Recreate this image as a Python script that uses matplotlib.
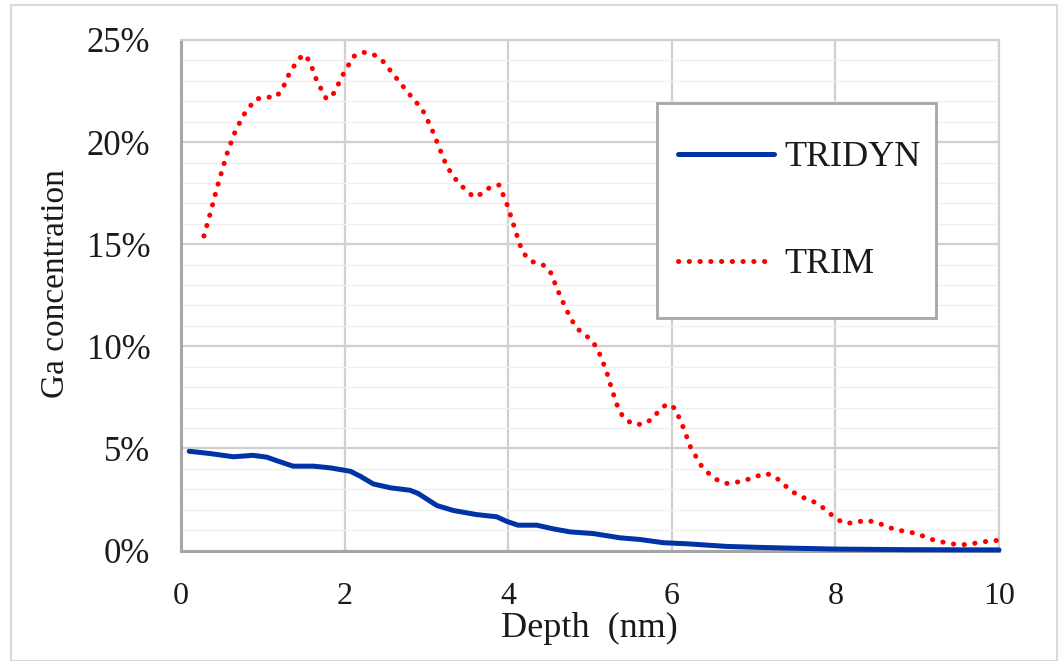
import matplotlib
matplotlib.use("Agg")
import matplotlib.pyplot as plt
from matplotlib.patches import Rectangle
from matplotlib.ticker import FuncFormatter, MultipleLocator

# ---- data ----
tridyn_x = [0.10, 0.35, 0.64, 0.88, 1.05, 1.17, 1.37, 1.62, 1.82, 2.07, 2.19, 2.35,
            2.56, 2.80, 2.90, 3.13, 3.33, 3.61, 3.86, 3.98, 4.12, 4.35, 4.55, 4.76,
            5.04, 5.37, 5.61, 5.90, 6.18, 6.67, 7.00, 7.40, 8.00, 8.90, 10.0]
tridyn_y = [4.86, 4.75, 4.59, 4.66, 4.57, 4.40, 4.13, 4.13, 4.05, 3.88, 3.64, 3.26,
            3.07, 2.95, 2.79, 2.20, 1.96, 1.76, 1.65, 1.43, 1.24, 1.24, 1.06, 0.91,
            0.83, 0.62, 0.54, 0.38, 0.33, 0.20, 0.16, 0.12, 0.07, 0.04, 0.03]

trim_x = [0.28, 0.35, 0.45, 0.56, 0.65, 0.76, 0.91, 1.04, 1.16, 1.24, 1.34, 1.49,
          1.57, 1.66, 1.78, 1.87, 1.98, 2.11, 2.23, 2.35, 2.46, 2.62, 2.78, 2.95,
          3.06, 3.15, 3.25, 3.39, 3.58, 3.69, 3.78, 3.89, 3.99, 4.07, 4.14, 4.20,
          4.29, 4.42, 4.51, 4.61, 4.71, 4.83, 4.93, 5.03, 5.10, 5.20, 5.27, 5.35,
          5.42, 5.53, 5.65, 5.76, 5.84, 5.94, 6.04, 6.14, 6.23, 6.36, 6.45, 6.55,
          6.66, 6.79, 6.92, 7.04, 7.16, 7.27, 7.37, 7.47, 7.58, 7.70, 7.81, 7.91,
          8.01, 8.12, 8.25, 8.37, 8.50, 8.62, 8.74, 8.87, 8.99, 9.11, 9.23, 9.36,
          9.48, 9.61, 9.74, 9.87, 10.0]
trim_y = [15.4, 16.4, 17.9, 19.4, 20.4, 21.3, 22.1, 22.2, 22.2, 22.6, 23.5, 24.3,
          24.0, 23.0, 22.1, 22.4, 23.3, 24.2, 24.4, 24.3, 24.0, 23.2, 22.4, 21.6,
          20.7, 19.8, 18.8, 18.0, 17.3, 17.5, 17.8, 17.9, 16.9, 15.9, 15.0, 14.5,
          14.15, 14.0, 13.7, 12.7, 11.8, 10.9, 10.6, 10.25, 9.8, 8.8, 7.85, 6.9,
          6.46, 6.18, 6.18, 6.44, 6.83, 7.18, 6.96, 6.03, 5.05, 4.16, 3.78, 3.47,
          3.28, 3.34, 3.47, 3.64, 3.77, 3.59, 3.23, 2.89, 2.63, 2.46, 2.22, 1.89,
          1.55, 1.32, 1.38, 1.48, 1.38, 1.19, 1.01, 0.93, 0.83, 0.65, 0.47, 0.38,
          0.29, 0.29, 0.38, 0.46, 0.50]

series_labels = ["TRIDYN", "TRIM"]
x_label = "Depth  (nm)"
y_label = "Ga concentration"

# ---- figure ----
plt.rcParams['font.family'] = ['Liberation Serif', 'DejaVu Serif']
W, H = 1060, 661
fig = plt.figure(figsize=(W / 100, H / 100), dpi=100)
fig.patch.set_facecolor("white")
fig.add_artist(Rectangle((11 / W, 0.0), (1057 - 11) / W, (H - 5) / H,
                         transform=fig.transFigure, fill=False,
                         edgecolor="#d9d9d9", linewidth=1.5))

x0, x1, ytop, ybot = 181, 999, 40, 550.5
ax = fig.add_axes([x0 / W, 1 - ybot / H, (x1 - x0) / W, (ybot - ytop) / H])
aw, ah = x1 - x0, ybot - ytop


def ax_xy(px, py):
    return (px - x0) / aw, (ybot - py) / ah


ax.set_xlim(0, 10)
ax.set_ylim(0, 25)
ax.xaxis.set_major_locator(MultipleLocator(2))
ax.yaxis.set_major_locator(MultipleLocator(5))
ax.yaxis.set_minor_locator(MultipleLocator(1))
ax.yaxis.set_major_formatter(FuncFormatter(lambda v, p: f"{v:.0f}%"))

ax.grid(which="major", color="#d0d0d0", linewidth=1.6)
ax.grid(which="minor", axis="y", color="#efefef", linewidth=1.0)
ax.set_axisbelow(True)

for s in ["top", "right"]:
    ax.spines[s].set_color("#d0d0d0")
    ax.spines[s].set_linewidth(1.6)
for s in ["left", "bottom"]:
    ax.spines[s].set_color("#a6a6a6")
    ax.spines[s].set_linewidth(2.2)

ax.tick_params(which="both", length=0)
ax.tick_params(axis="y", labelsize=25, pad=22, colors="#1a1a1a")
ax.tick_params(axis="x", labelsize=23, pad=23, colors="#1a1a1a")

ax.plot(tridyn_x, tridyn_y, color="#0033a6", linewidth=3.6,
        solid_capstyle="round", solid_joinstyle="round",
        label=series_labels[0], clip_on=False, zorder=3)
ax.plot(trim_x, trim_y, color="#ff0000", linewidth=3.6,
        linestyle=(0, (0.05, 2.1)), dash_capstyle="round",
        label=series_labels[1], clip_on=False, zorder=3)

# legend frame (drawn separately so its size matches the reference)
fx0, fy0 = ax_xy(657, 318)
fx1, fy1 = ax_xy(936, 103)
ax.add_patch(Rectangle((fx0, fy0), fx1 - fx0, fy1 - fy0, transform=ax.transAxes,
                       facecolor="white", edgecolor="#a6a6a6", linewidth=2.0,
                       zorder=4, clip_on=False))
leg = ax.legend(loc="upper left", bbox_to_anchor=ax_xy(678, 141),
                borderaxespad=0, fontsize=26, frameon=False,
                borderpad=0, labelspacing=2.04, handlelength=2.65,
                handletextpad=0.3)
leg.set_zorder(5)
for t in leg.get_texts():
    t.set_color("#1a1a1a")

ax.set_xlabel(x_label, fontsize=26, color="#1a1a1a")
ax.set_ylabel(y_label, fontsize=24, color="#1a1a1a")
ax.xaxis.set_label_coords(*ax_xy(589, 612))
ax.yaxis.set_label_coords(*ax_xy(71, 284))

fig.savefig("out.png", dpi=100, facecolor="white")
